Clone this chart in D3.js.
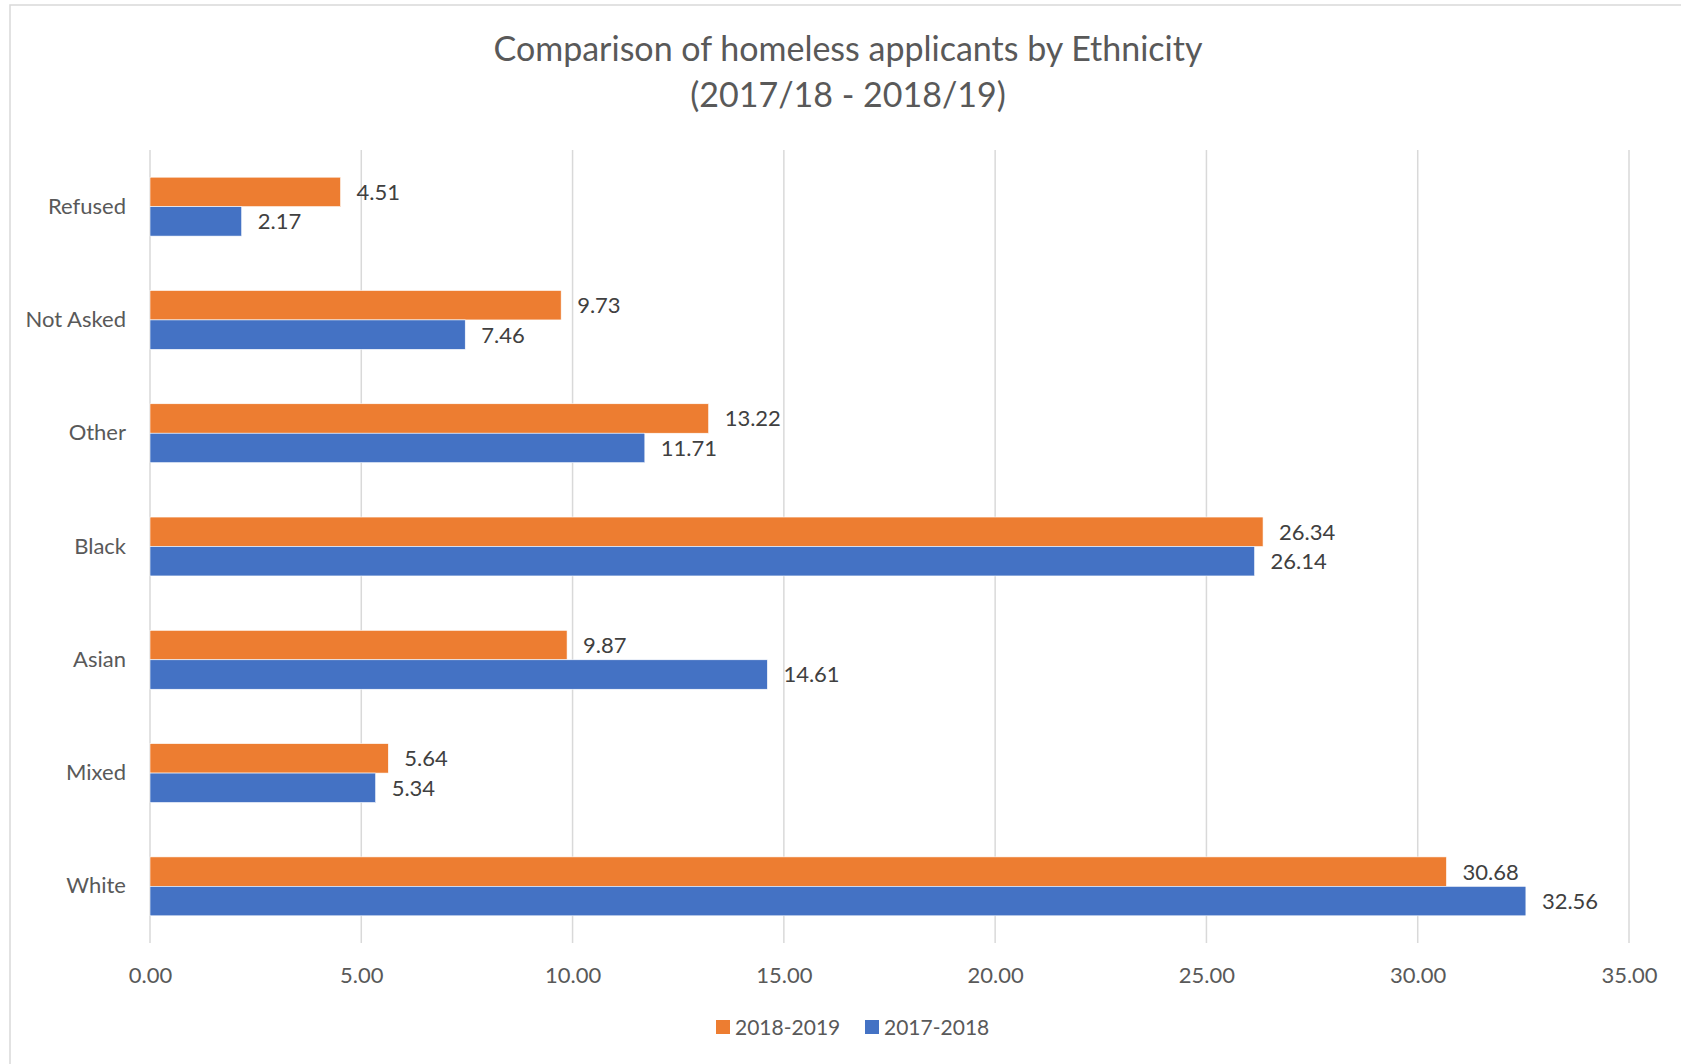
<!DOCTYPE html>
<html>
<head>
<meta charset="utf-8">
<title>Homeless applicants by ethnicity</title>
<script src="https://d3js.org/d3.v7.min.js"></script>
<style>
    body { margin: 0; background: #fff; }
    svg { display: block; font-family: Lato, "Open Sans", sans-serif; }
    .tick text { fill: #595959; }
</style>
</head>
<body>
<svg id="chart" width="1681" height="1064"></svg>
<script>
// categories top to bottom, as drawn
var categories = ["Refused", "Not Asked", "Other", "Black", "Asian", "Mixed", "White"];
var series = ["2018-2019", "2017-2018"];
var values1819 = [4.51, 9.73, 13.22, 26.34, 9.87, 5.64, 30.68];
var values1718 = [2.17, 7.46, 11.71, 26.14, 14.61, 5.34, 32.56];
var xTicks = [0, 5, 10, 15, 20, 25, 30, 35];
var colors = ["#ED7D31", "#4472C4"];

var svg = d3.select("#chart");

// chart frame
svg.append("rect")
    .attr("x", 10).attr("y", 5)
    .attr("width", 1690).attr("height", 1100)
    .attr("fill", "none")
    .attr("stroke", "#D9D9D9")
    .attr("stroke-width", 1.5);

var m = { left: 150, right: 1629, top: 150, bottom: 943 };

var x = d3.scaleLinear().domain([0, 35]).range([m.left, m.right]);
var y = d3.scaleBand().domain(categories).range([m.top, m.bottom]).paddingInner(0.48).paddingOuter(0.24);
var ySub = d3.scaleBand().domain(series).range([0, y.bandwidth()]);

// gridlines
svg.append("g")
    .selectAll("line")
    .data(xTicks)
    .join("line")
    .attr("x1", d => x(d)).attr("x2", d => x(d))
    .attr("y1", m.top).attr("y2", m.bottom)
    .attr("stroke", "#D9D9D9")
    .attr("stroke-width", 1.5);

// x axis labels
var xAxis = svg.append("g")
    .attr("transform", "translate(0," + m.bottom + ")")
    .call(d3.axisBottom(x).tickValues(xTicks).tickFormat(d3.format(".2f")).tickSize(0).tickPadding(24));
xAxis.select(".domain").remove();
xAxis.selectAll("text").attr("font-size", 22).attr("font-family", "Lato");

// y axis labels
var yAxis = svg.append("g")
    .attr("transform", "translate(" + (m.left - 24) + ",0)")
    .call(d3.axisLeft(y).tickSize(0).tickPadding(0));
yAxis.select(".domain").remove();
yAxis.selectAll("text").attr("font-size", 22).attr("font-family", "Lato");

var rows = categories.map(function (c, i) {
    return { cat: c, vals: [values1819[i], values1718[i]] };
});

var groups = svg.append("g")
    .selectAll("g")
    .data(rows)
    .join("g")
    .attr("transform", d => "translate(0," + y(d.cat) + ")");

groups.selectAll("rect")
    .data(d => d.vals.map((v, j) => ({ key: series[j], v: v, j: j })))
    .join("rect")
    .attr("x", x(0))
    .attr("y", d => ySub(d.key))
    .attr("width", d => x(d.v) - x(0))
    .attr("height", ySub.bandwidth())
    .attr("fill", d => colors[d.j])
    .attr("stroke", "#fff")
    .attr("stroke-width", 0.6);

groups.selectAll("text")
    .data(d => d.vals.map((v, j) => ({ key: series[j], v: v })))
    .join("text")
    .attr("x", d => x(d.v) + 16)
    .attr("y", d => ySub(d.key) + ySub.bandwidth() / 2)
    .attr("dy", "0.36em")
    .attr("font-size", 22)
    .attr("fill", "#404040")
    .text(d => d3.format(".2f")(d.v));

// title
var title = svg.append("text")
    .attr("x", 848)
    .attr("text-anchor", "middle")
    .attr("fill", "#595959")
    .attr("font-size", 34);
title.append("tspan").attr("x", 848).attr("y", 61).text("Comparison of homeless applicants by Ethnicity");
title.append("tspan").attr("x", 848).attr("y", 107).text("(2017/18 - 2018/19)");

// legend
var legend = svg.append("g").attr("transform", "translate(716,1027)");
var lx = [0, 149];
series.forEach(function (s, i) {
    var g = legend.append("g").attr("transform", "translate(" + lx[i] + ",0)");
    g.append("rect").attr("x", 0).attr("y", -7).attr("width", 14).attr("height", 14).attr("fill", colors[i]);
    g.append("text").attr("x", 19).attr("y", 0).attr("dy", "0.36em")
        .attr("font-size", 21).attr("fill", "#595959").text(s);
});
</script>
</body>
</html>
